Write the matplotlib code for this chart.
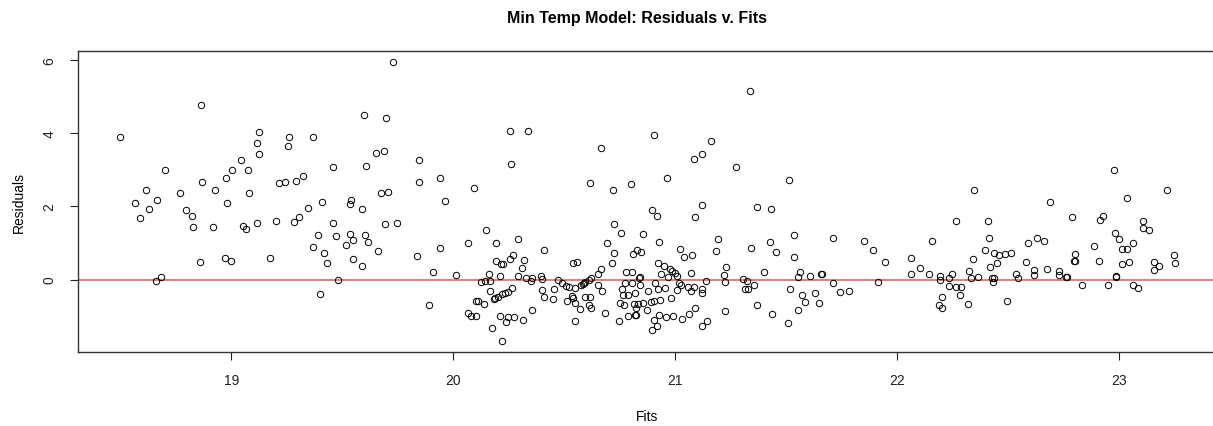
import numpy as np
import matplotlib
matplotlib.use("Agg")
import matplotlib.pyplot as plt

plt.rcParams['font.family'] = ['Liberation Sans', 'DejaVu Sans']

# fitted values / residuals from the min temp model, grouped by fit range
fits_a = [18.497, 18.862, 18.703, 18.617, 18.568, 18.665, 18.629, 18.587, 18.767, 18.866,
          18.797, 18.821, 18.826, 18.928, 18.916, 18.977, 19.002, 18.982, 19.044, 19.077,
          19.080, 19.051, 19.068, 18.857, 18.973, 18.998, 18.662, 18.683]
resid_a = [3.91, 4.79, 3.01, 2.44, 2.09, 2.18, 1.94, 1.69, 2.38, 2.68,
           1.91, 1.74, 1.43, 2.44, 1.43, 2.79, 3.01, 2.09, 3.27, 2.99,
           2.38, 1.47, 1.39, 0.47, 0.58, 0.51, -0.04, 0.08]

fits_b = [19.126, 19.116, 19.126, 19.116, 19.176, 19.730, 19.598, 19.697, 19.261, 19.257,
          19.369, 19.652, 19.689, 19.458, 19.605, 19.848, 19.215, 19.242, 19.290, 19.323,
          19.848, 19.673, 19.704, 19.541, 19.536, 19.407, 19.590, 19.344, 19.200, 19.281,
          19.303, 19.458, 19.692, 19.745, 19.389, 19.474, 19.533, 19.602, 19.550, 19.614,
          19.515, 19.368, 19.417, 19.662, 19.836, 19.429, 19.550, 19.590, 19.907, 19.479,
          19.398, 19.893]
resid_b = [4.05, 3.74, 3.44, 1.54, 0.58, 5.96, 4.51, 4.41, 3.89, 3.66,
           3.89, 3.46, 3.52, 3.07, 3.11, 3.27, 2.63, 2.66, 2.71, 2.84,
           2.66, 2.38, 2.41, 2.17, 2.07, 2.11, 1.92, 1.96, 1.61, 1.58,
           1.72, 1.56, 1.52, 1.56, 1.21, 1.19, 1.24, 1.21, 1.07, 1.03,
           0.94, 0.89, 0.74, 0.79, 0.64, 0.44, 0.57, 0.38, 0.22, -0.01,
           -0.39, -0.69]

fits_c = [19.940, 19.961, 19.940, 20.257, 20.338, 20.261, 20.667, 20.092, 20.617, 20.721,
          20.725, 20.146, 20.068, 20.191, 20.293, 20.411, 20.691, 20.725, 20.716, 20.195,
          20.216, 20.225, 20.258, 20.269, 20.321, 20.312, 20.539, 20.557, 20.667, 20.653,
          20.014, 20.162, 20.212, 20.293, 20.327, 20.353, 20.351, 20.395, 20.398, 20.126,
          20.144, 20.168, 20.474, 20.492, 20.509, 20.521, 20.574, 20.583, 20.590, 20.596,
          20.610, 20.620, 20.653, 20.671, 20.167, 20.233, 20.246, 20.264, 20.221, 20.200,
          20.189, 20.183, 20.104, 20.111, 20.141, 20.402, 20.456, 20.548, 20.408, 20.449,
          20.535, 20.541, 20.511, 20.547, 20.592, 20.617, 20.571, 20.610, 20.619, 20.354,
          20.068, 20.080, 20.101, 20.209, 20.237, 20.249, 20.276, 20.315, 20.177, 20.219,
          20.548, 20.683]
resid_c = [2.77, 2.16, 0.86, 4.06, 4.06, 3.16, 3.59, 2.51, 2.63, 2.44,
           1.53, 1.36, 0.99, 1.01, 1.11, 0.81, 1.00, 0.74, 0.44, 0.51,
           0.43, 0.43, 0.57, 0.68, 0.54, 0.31, 0.44, 0.47, 0.28, 0.15,
           0.13, 0.16, 0.11, 0.10, 0.04, 0.05, -0.04, 0.10, 0.02, -0.06,
           -0.05, -0.03, -0.02, -0.09, -0.18, -0.20, -0.14, -0.11, -0.09, -0.06,
           0.00, 0.04, -0.15, -0.31, -0.31, -0.37, -0.33, -0.22, -0.39, -0.48,
           -0.51, -0.54, -0.58, -0.60, -0.68, -0.28, -0.25, -0.23, -0.48, -0.54,
           -0.46, -0.50, -0.59, -0.64, -0.49, -0.47, -0.80, -0.69, -0.78, -0.83,
           -0.92, -1.01, -0.99, -1.00, -1.17, -1.03, -1.02, -1.10, -1.32, -1.67,
           -1.14, -0.92]

fits_d = [21.339, 20.905, 21.161, 21.083, 21.119, 21.275, 20.962, 20.803, 21.514, 21.119,
          21.371, 21.431, 20.898, 20.917, 21.090, 20.754, 20.856, 20.929, 21.535, 21.194,
          21.426, 21.183, 21.341, 21.456, 21.020, 21.038, 21.075, 20.811, 20.829, 20.848,
          21.538, 20.925, 20.952, 20.779, 20.808, 20.836, 20.844, 20.979, 20.988, 20.998,
          21.009, 20.967, 20.938, 21.071, 21.230, 21.221, 21.227, 21.140, 21.401, 21.308,
          21.324, 21.314, 21.329, 21.357, 21.518, 21.018, 21.026, 21.009, 21.059, 21.086,
          21.071, 21.119, 21.120, 20.776, 20.808, 20.844, 20.766, 20.788, 20.818, 20.760,
          20.880, 20.910, 20.925, 20.955, 20.980, 20.890, 20.905, 20.931, 20.815, 20.833,
          20.854, 20.751, 20.770, 20.823, 20.872, 20.749, 20.787, 20.820, 20.826, 20.929,
          20.961, 20.992, 21.033, 21.062, 21.090, 21.227, 21.371, 21.438, 21.509, 20.904,
          20.920, 20.898, 21.123, 21.144]
resid_d = [5.16, 3.95, 3.79, 3.29, 3.43, 3.09, 2.79, 2.61, 2.73, 2.04,
           1.99, 1.94, 1.91, 1.74, 1.72, 1.27, 1.26, 1.03, 1.23, 1.11,
           1.03, 0.79, 0.86, 0.76, 0.84, 0.63, 0.68, 0.70, 0.82, 0.76,
           0.63, 0.45, 0.37, 0.21, 0.22, 0.05, 0.06, 0.30, 0.23, 0.18,
           0.11, 0.07, 0.16, 0.19, 0.35, 0.13, -0.06, -0.05, 0.22, 0.01,
           -0.05, -0.26, -0.26, -0.15, -0.26, -0.09, -0.16, -0.28, -0.21, -0.21,
           -0.30, -0.26, -0.37, -0.09, -0.09, -0.15, -0.43, -0.42, -0.37, -0.25,
           -0.30, -0.09, -0.26, -0.24, -0.51, -0.61, -0.59, -0.56, -0.67, -0.67,
           -0.64, -0.64, -0.71, -0.78, -0.82, -1.14, -1.01, -0.96, -0.98, -0.97,
           -1.03, -1.01, -1.07, -0.95, -0.79, -0.87, -0.71, -0.94, -1.19, -1.10,
           -1.28, -1.39, -1.26, -1.14]

fits_e = [21.565, 21.553, 21.571, 21.584, 21.554, 21.608, 21.629, 21.650, 21.659, 21.661,
          21.710, 21.710, 21.745, 21.785, 21.850, 21.892, 21.914, 21.944, 22.065, 22.065,
          22.105, 22.143, 22.158, 22.195, 22.195, 22.203, 22.191, 22.201, 22.233, 22.233,
          22.248, 22.266, 22.290, 22.282, 22.266, 22.318, 22.326, 22.332, 22.344, 22.348]
resid_e = [0.20, 0.06, -0.42, -0.61, -0.84, 0.11, -0.37, -0.64, 0.16, 0.16,
           1.13, -0.09, -0.34, -0.31, 1.06, 0.81, -0.06, 0.47, 0.58, 0.16,
           0.31, 0.16, 1.06, 0.11, 0.00, -0.49, -0.69, -0.79, 0.04, -0.17,
           0.16, -0.21, -0.21, -0.42, 1.59, -0.67, 0.24, 0.03, 0.57, 2.46]

fits_f = [22.366, 22.396, 22.408, 22.416, 22.417, 22.429, 22.431, 22.438, 22.435, 22.450,
          22.459, 22.486, 22.512, 22.495, 22.536, 22.547, 22.581, 22.592, 22.616, 22.619,
          22.631, 22.661, 22.677, 22.689, 22.730, 22.731, 22.760, 22.764, 22.788, 22.796,
          22.803, 22.803, 22.833, 22.890, 22.911, 22.914, 22.928, 22.952, 22.977, 22.983,
          22.985, 22.989, 23.002, 23.014, 23.014, 23.035, 23.044, 23.035, 23.063, 23.063,
          23.084, 23.108, 23.108, 23.137, 23.158, 23.158, 23.182, 23.218, 23.249, 23.252]
resid_f = [0.08, 0.81, 1.61, 1.13, 0.33, 0.04, -0.06, 0.04, 0.73, 0.46,
           0.67, 0.71, 0.74, -0.58, 0.14, 0.05, 0.48, 1.00, 0.25, 0.13,
           1.14, 1.06, 0.28, 2.11, 0.24, 0.13, 0.07, 0.06, 1.72, 0.51,
           0.51, 0.71, -0.16, 0.91, 0.51, 1.63, 1.74, -0.15, 2.99, 1.28,
           0.08, 0.10, 1.12, 0.43, 0.83, 0.83, 0.47, 2.24, -0.14, 0.99,
           -0.22, 1.61, 1.41, 1.35, 0.26, 0.47, 0.37, 2.44, 0.67, 0.46]

fits = np.array(fits_a + fits_b + fits_c + fits_d + fits_e + fits_f)
resid = np.array(resid_a + resid_b + resid_c + resid_d + resid_e + resid_f)

# R-style axis ranges: data range padded by 4% on each side
def pad_range(v, frac=0.04):
    lo, hi = v.min(), v.max()
    d = (hi - lo) * frac
    return lo - d, hi + d

W, H = 1213, 427
fig = plt.figure(figsize=(W / 100, H / 100), dpi=100)
fig.patch.set_facecolor('white')

left, right, top, bottom = 77.5, 1217, 51.7, 352.7
ax = fig.add_axes([left / W, 1 - bottom / H, (right - left) / W, (bottom - top) / H])

ax.plot(fits, resid, linestyle='none', marker='o', markersize=4.6,
        markerfacecolor='none', markeredgecolor='black', markeredgewidth=0.7)
ax.axhline(0, color='#dd5a5a', linewidth=1.1, zorder=0)

ax.set_xlim(*pad_range(fits))
ax.set_ylim(*pad_range(resid))

ax.set_xticks([19, 20, 21, 22, 23])
ax.set_yticks([0, 2, 4, 6])
ax.tick_params(direction='out', length=6, width=0.8, colors='#222222', labelsize=10)
ax.tick_params(axis='x', pad=9)
ax.tick_params(axis='y', pad=9)
for lab in ax.get_yticklabels():
    lab.set_rotation(90)
    lab.set_va('center')

for sp in ax.spines.values():
    sp.set_linewidth(1.0)
    sp.set_color('#333333')

ax.set_xlabel('Fits', fontsize=10)
ax.xaxis.set_label_coords(0.5, -0.19)
ax.set_ylabel('Residuals', fontsize=10)
ax.yaxis.set_label_coords(-0.045, 0.5)

fig.text(637 / W, 1 - 18 / H, 'Min Temp Model: Residuals v. Fits',
         ha='center', va='center', fontsize=11.5, fontweight='bold')

fig.savefig('out.png', dpi=100)
